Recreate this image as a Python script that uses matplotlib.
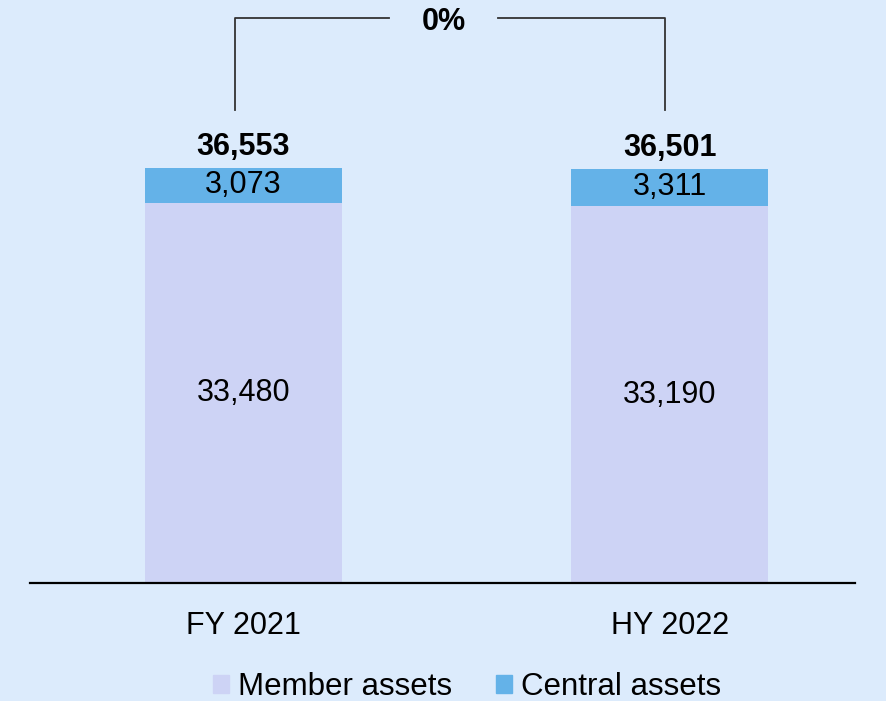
import matplotlib.pyplot as plt
from matplotlib.patches import Patch

periods = ['FY 2021', 'HY 2022']
member_assets = [33480, 33190]
central_assets = [3073, 3311]
change_label = '0%'

bg = '#DCEBFC'
member_color = '#CDD3F5'
central_color = '#64B2E8'

plt.rcParams['font.family'] = ['Liberation Sans', 'DejaVu Sans']

fig = plt.figure(figsize=(8.87, 7.01), dpi=100, facecolor=bg)
ax = fig.add_axes([30 / 887, 118 / 701, 825 / 887, 583 / 701])
ax.set_facecolor(bg)

x = list(range(len(periods)))
totals = [m + c for m, c in zip(member_assets, central_assets)]
width = 0.4625

ax.bar(x, member_assets, width=width, color=member_color, label='Member assets')
ax.bar(x, central_assets, width=width, bottom=member_assets, color=central_color, label='Central assets')

# segment labels
for i in x:
    ax.text(i, member_assets[i] / 2, f'{member_assets[i]:,}', ha='center', va='center', fontsize=22)
    ax.text(i, member_assets[i] + central_assets[i] / 2, f'{central_assets[i]:,}',
            ha='center', va='center', fontsize=22)
    ax.text(i, totals[i] + 500, f'{totals[i]:,}', ha='center', va='bottom',
            fontsize=22, fontweight='bold')

# bracket showing change
y_lo = max(totals) + 5100
y_hi = 49765
xl, xr = x[0] - 0.02, x[1] - 0.01
xm = 0.47
gap = 0.128
lc = '#333333'
ax.plot([xl, xl, xm - gap], [y_lo, y_hi, y_hi], color=lc, lw=1.3)
ax.plot([xm + gap, xr, xr], [y_hi, y_hi, y_lo], color=lc, lw=1.3)
ax.text(xm, y_hi - 350, change_label, ha='center', va='center', fontsize=22, fontweight='bold')

ax.set_xlim(-0.501, 1.435)
ax.set_ylim(0, 51350)
ax.set_xticks(x)
ax.set_xticklabels(periods, fontsize=22)
ax.tick_params(axis='x', length=0, pad=20)
ax.set_yticks([])
for s in ['top', 'right', 'left']:
    ax.spines[s].set_visible(False)
ax.spines['bottom'].set_linewidth(1.6)
ax.spines['bottom'].set_color('black')

handles = [Patch(color=member_color, label='Member assets'),
           Patch(color=central_color, label='Central assets')]
fig.legend(handles=handles, loc='center', bbox_to_anchor=(0.527, 0.02), ncol=2,
           frameon=False, fontsize=22.5, handlelength=0.5, handleheight=0.5,
           handletextpad=0.3, columnspacing=1.4, borderpad=0)

fig.savefig('out.png', dpi=100, facecolor=bg)
